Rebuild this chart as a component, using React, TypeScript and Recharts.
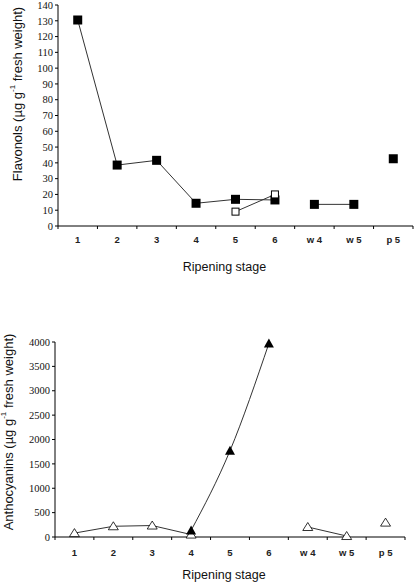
import React from 'react';
import { LineChart, Line, XAxis, YAxis } from 'recharts';

const stages = ['1', '2', '3', '4', '5', '6', 'w 4', 'w 5', 'p 5'];

// panel A – flavonols
const flavonolsMain = [130.5, 38.6, 41.6, 14.4, 16.9, 16.5, null, null, null];
const flavonolsWound = [null, null, null, null, null, null, 13.7, 13.7, null];
const flavonolsP = [null, null, null, null, null, null, null, null, 42.6];
const flavonolsOpen = [null, null, null, null, 9.1, 20, null, null, null];
const flavonolTicks = [0, 10, 20, 30, 40, 50, 60, 70, 80, 90, 100, 110, 120, 130, 140];

// panel B – anthocyanins
const anthoOpenMain = [80, 220, 235, 50, null, null, null, null, null];
const anthoOpenWound = [null, null, null, null, null, null, 205, 20, null];
const anthoOpenP = [null, null, null, null, null, null, null, null, 295];
const anthoFilled = [null, null, null, 135, 1770, 3970, null, null, null];
const anthoTicks = [0, 500, 1000, 1500, 2000, 2500, 3000, 3500, 4000];

const dataA = stages.map((s, i) => ({
  stage: s,
  main: flavonolsMain[i],
  wound: flavonolsWound[i],
  p: flavonolsP[i],
  open: flavonolsOpen[i],
}));

const dataB = stages.map((s, i) => ({
  stage: s,
  openMain: anthoOpenMain[i],
  openWound: anthoOpenWound[i],
  openP: anthoOpenP[i],
  filled: anthoFilled[i],
}));

const LINE = '#333';
const sans = 'Arial, "Liberation Sans", sans-serif';
const serif = '"Times New Roman", "Liberation Serif", serif';

const ok = (p: any) => p && p.cx != null && p.cy != null && p.value != null && !Number.isNaN(p.cy);

const FilledSquare = (p: any) =>
  ok(p) ? <rect key={p.key} x={p.cx - 4.5} y={p.cy - 4.5} width={9} height={9} fill="#000" /> : <g key={p.key} />;
const OpenSquare = (p: any) =>
  ok(p) ? (
    <rect key={p.key} x={p.cx - 3.5} y={p.cy - 3.5} width={7} height={7} fill="#fff" stroke="#000" strokeWidth={1} />
  ) : (
    <g key={p.key} />
  );
const FilledTriangle = (p: any) =>
  ok(p) ? (
    <path key={p.key} d={`M${p.cx},${p.cy - 5}L${p.cx + 5},${p.cy + 4}L${p.cx - 5},${p.cy + 4}Z`} fill="#000" />
  ) : (
    <g key={p.key} />
  );
const OpenTriangle = (p: any) =>
  ok(p) ? (
    <path
      key={p.key}
      d={`M${p.cx},${p.cy - 4.5}L${p.cx + 5},${p.cy + 3.5}L${p.cx - 5},${p.cy + 3.5}Z`}
      fill="#fff"
      stroke="#000"
      strokeWidth={0.8}
    />
  ) : (
    <g key={p.key} />
  );

// category tick: label at band centre, tick mark at band boundary
const StageTick = (props: any) => {
  const { x, y, payload, index, visibleTicksCount, labelDy } = props;
  const off = payload.offset || 0;
  return (
    <g>
      <line x1={x - off} x2={x - off} y1={y} y2={y + 3} stroke="#000" />
      {index === visibleTicksCount - 1 && <line x1={x + off} x2={x + off} y1={y} y2={y + 3} stroke="#000" />}
      <text x={x} y={y + labelDy} textAnchor="middle" fontFamily={sans} fontSize={9.5} fontWeight={600} fill="#222">
        {payload.value}
      </text>
    </g>
  );
};

const YLabel = ({ text, cx, cy }: { text: string; cx: number; cy: number }) => {
  const [pre, post] = text.split('|');
  return (
    <text
      x={cx}
      y={cy}
      transform={`rotate(-90 ${cx} ${cy})`}
      textAnchor="middle"
      dominantBaseline="central"
      fontFamily={sans}
      fontSize={13}
      fill="#111"
    >
      {pre}
      <tspan fontSize={8} dy={-5}>-1</tspan>
      <tspan dy={5}>{post}</tspan>
    </text>
  );
};

export default function App() {
  return (
    <div style={{ width: 416, height: 582, background: '#fff', position: 'relative' }}>
      <style>{'body{margin:0}'}</style>
      <LineChart width={416} height={290} data={dataA} margin={{ top: 5, right: 3, left: 0, bottom: 0 }}>
        <XAxis
          dataKey="stage"
          scale="band"
          height={64}
          axisLine={{ stroke: '#000' }}
          tickLine={false}
          tickSize={0}
          tickMargin={0}
          tick={<StageTick labelDy={16.7} />}
          interval={0}
          label={{ value: 'Ripening stage', position: 'insideBottom', offset: 19, dx: -11, fontFamily: sans, fontSize: 12.5, fill: '#111' }}
        />
        <YAxis
          width={58}
          domain={[0, 140]}
          ticks={flavonolTicks}
          interval={0}
          axisLine={{ stroke: '#000' }}
          tickLine={{ stroke: '#000' }}
          tickSize={3}
          tick={{ fontFamily: serif, fontSize: 10.5, fill: '#111' }}
          label={<YLabel text="Flavonols (µg g|  fresh weight)" cx={17} cy={94} />}
        />
        <Line dataKey="main" stroke={LINE} strokeWidth={1} dot={<FilledSquare />} isAnimationActive={false} />
        <Line dataKey="wound" stroke={LINE} strokeWidth={1} dot={<FilledSquare />} isAnimationActive={false} />
        <Line dataKey="p" stroke={LINE} strokeWidth={1} dot={<FilledSquare />} isAnimationActive={false} />
        <Line dataKey="open" stroke={LINE} strokeWidth={1} dot={<OpenSquare />} isAnimationActive={false} />
      </LineChart>
      <svg width={416} height={0} style={{ position: 'absolute', left: 0, top: 0, overflow: 'visible' }}>
        <text x={405} y={22} textAnchor="end" fontFamily={serif} fontWeight="bold" fontSize={20} fill="#000">A</text>
        <text x={404} y={363} textAnchor="end" fontFamily={serif} fontWeight="bold" fontSize={20} fill="#000">B</text>
      </svg>
      <LineChart width={416} height={292} data={dataB} margin={{ top: 52, right: 11, left: 0, bottom: 0 }}>
        <XAxis
          dataKey="stage"
          scale="band"
          height={45}
          axisLine={{ stroke: '#000' }}
          tickLine={false}
          tickSize={0}
          tickMargin={0}
          tick={<StageTick labelDy={19} />}
          interval={0}
          label={{ value: 'Ripening stage', position: 'insideBottom', offset: 3, dx: -6, fontFamily: sans, fontSize: 12.5, fill: '#111' }}
        />
        <YAxis
          width={55}
          domain={[0, 4000]}
          ticks={anthoTicks}
          interval={0}
          axisLine={{ stroke: '#000' }}
          tickLine={{ stroke: '#000' }}
          tickSize={3}
          tick={{ fontFamily: serif, fontSize: 10.5, fill: '#111' }}
          label={<YLabel text="Anthocyanins (µg g|  fresh weight)" cx={8} cy={142} />}
        />
        <Line dataKey="openMain" stroke={LINE} strokeWidth={1} dot={<OpenTriangle />} isAnimationActive={false} />
        <Line dataKey="openWound" stroke={LINE} strokeWidth={1} dot={<OpenTriangle />} isAnimationActive={false} />
        <Line dataKey="openP" stroke={LINE} strokeWidth={1} dot={<OpenTriangle />} isAnimationActive={false} />
        <Line type="monotone" dataKey="filled" stroke={LINE} strokeWidth={1} dot={<FilledTriangle />} isAnimationActive={false} />
      </LineChart>
    </div>
  );
}
